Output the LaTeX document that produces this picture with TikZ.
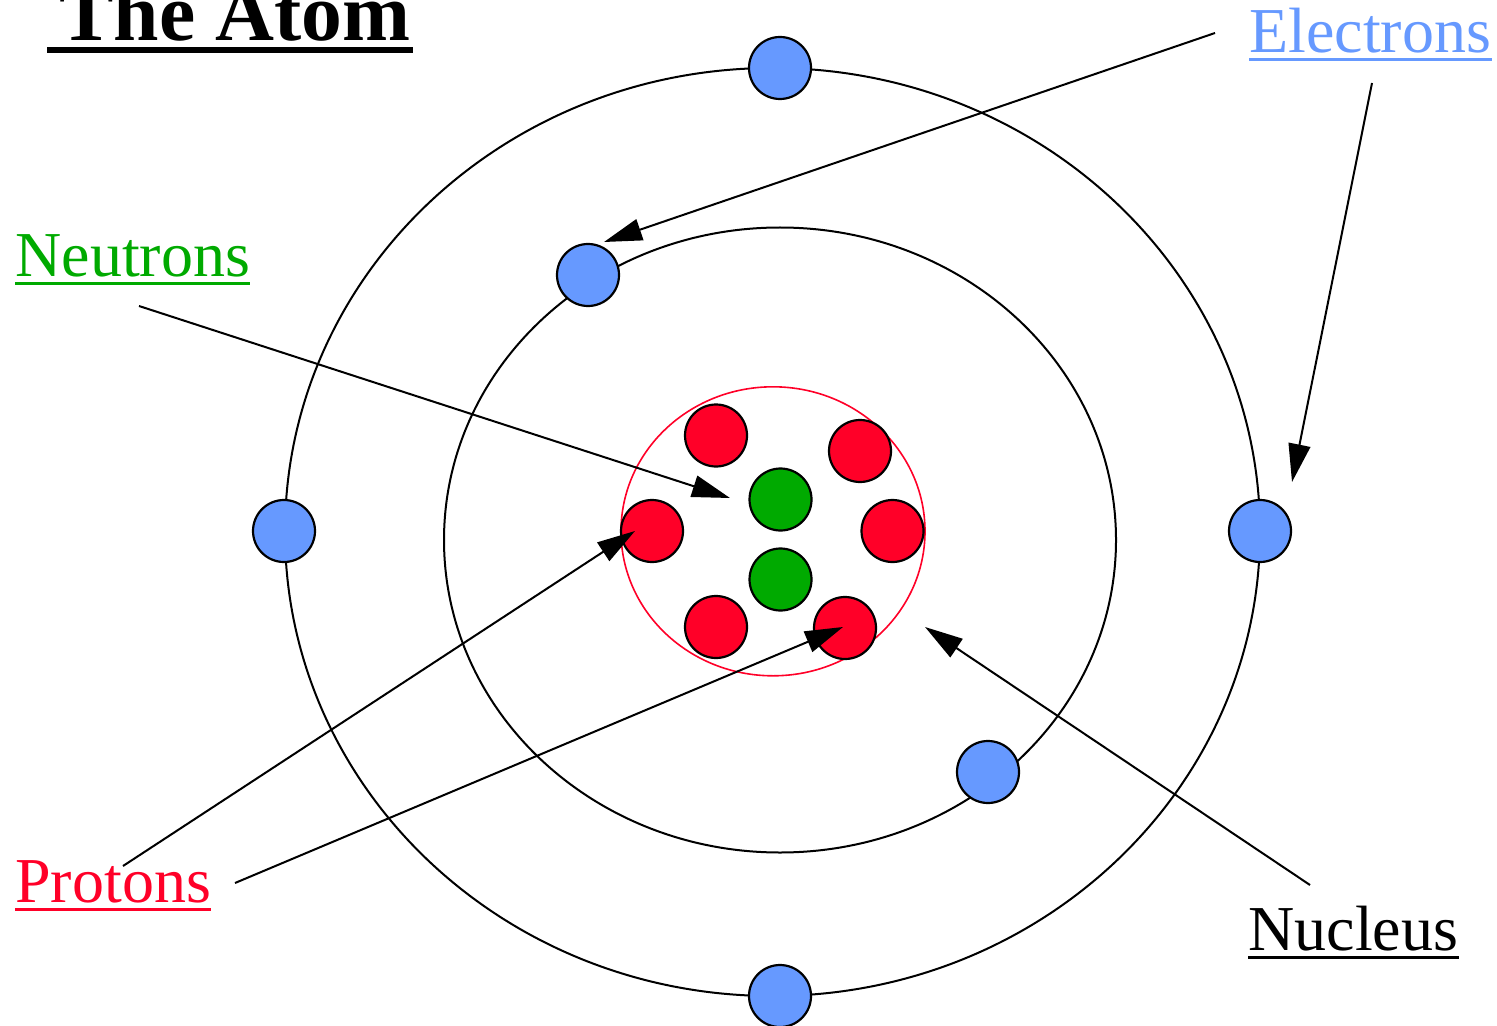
\documentclass[tikz,border=0pt]{standalone}
\usepackage{fontspec}
\setmainfont{Liberation Serif}
\usetikzlibrary{arrows.meta,shapes.geometric}

\definecolor{eblue}{RGB}{102,153,255}
\definecolor{pred}{RGB}{255,0,40}
\definecolor{ngreen}{RGB}{0,170,0}

\tikzset{
  orbit/.style={draw=black, line width=1pt, ellipse, inner sep=0pt},
  particle/.style={circle, draw=black, line width=1.1pt, minimum size=31pt, inner sep=0pt},
  electron/.style={particle, fill=eblue},
  proton/.style={particle, fill=pred},
  neutron/.style={particle, fill=ngreen},
  label/.style={anchor=base west, inner sep=0pt, font=\fontsize{32}{36}\selectfont},
  pointer/.style={draw=black, line width=1pt, -{Triangle[length=19pt,width=11pt]}},
  uline/.style={line width=1.5pt}
}

\begin{document}
\begin{tikzpicture}[x=0.5pt,y=-0.5pt]
  \useasboundingbox (0,0) rectangle (1497,1026);

  % title
  \node[anchor=base west, inner sep=0pt, font=\fontsize{40.8}{48}\selectfont\bfseries] (title) at (59,41) {The Atom};
  \draw[line width=3pt] (47,50) -- (413,50);

  % orbits
  \node[orbit, minimum width=487.5pt, minimum height=464pt] (outer) at (772.5,532) {};
  \node[orbit, minimum width=336pt, minimum height=312.5pt] (inner) at (780,540) {};

  % nucleus boundary
  \node[draw=pred, line width=0.8pt, ellipse, inner sep=0pt, minimum width=152pt, minimum height=144.5pt] (nucleus) at (773,531.3) {};

  % electrons
  \node[electron] (e1) at (780,68) {};
  \node[electron] (e2) at (588,275) {};
  \node[electron] (e3) at (284,531) {};
  \node[electron] (e4) at (1260,531) {};
  \node[electron] (e5) at (988,772) {};
  \node[electron] (e6) at (780,996) {};

  % protons
  \node[proton] (p1) at (716,435.5) {};
  \node[proton] (p2) at (860,451) {};
  \node[proton] (p3) at (652,531) {};
  \node[proton] (p4) at (892.5,531) {};
  \node[proton] (p5) at (716,627) {};
  \node[proton] (p6) at (845,628) {};

  % neutrons
  \node[neutron] (n1) at (780.5,499.5) {};
  \node[neutron] (n2) at (780.5,579.5) {};

  % labels
  \node[label, text=eblue] (lblE) at (1249,53) {Electrons};
  \draw[uline, eblue] ([yshift=-3.5pt]lblE.base west) -- ([yshift=-3.5pt]lblE.base east);
  \node[label, text=ngreen] (lblN) at (15,277) {Neutrons};
  \draw[uline, ngreen] ([yshift=-3.5pt]lblN.base west) -- ([yshift=-3.5pt]lblN.base east);
  \node[label, text=pred] (lblP) at (15,902) {Protons};
  \draw[uline, pred] ([yshift=-3.5pt]lblP.base west) -- ([yshift=-3.5pt]lblP.base east);
  \node[label, text=black] (lblC) at (1248,950) {Nucleus};
  \draw[uline, black] ([yshift=-3.5pt]lblC.base west) -- ([yshift=-3.5pt]lblC.base east);

  % pointer ends
  \coordinate (eA) at (1215,33);   \coordinate (eAt) at (604,242);
  \coordinate (eB) at (1372,83);   \coordinate (eBt) at (1292,482);
  \coordinate (nA) at (139,306);   \coordinate (nAt) at (730,498);
  \coordinate (pA) at (123,866);   \coordinate (pAt) at (635,531);
  \coordinate (pB) at (235,883);   \coordinate (pBt) at (843,627);
  \coordinate (cA) at (1310,885);  \coordinate (cAt) at (925,627);

  % pointers
  \draw[pointer] (eA) -- (eAt);
  \draw[pointer] (eB) -- (eBt);
  \draw[pointer] (nA) -- (nAt);
  \draw[pointer] (pA) -- (pAt);
  \draw[pointer] (pB) -- (pBt);
  \draw[pointer] (cA) -- (cAt);
\end{tikzpicture}
\end{document}
